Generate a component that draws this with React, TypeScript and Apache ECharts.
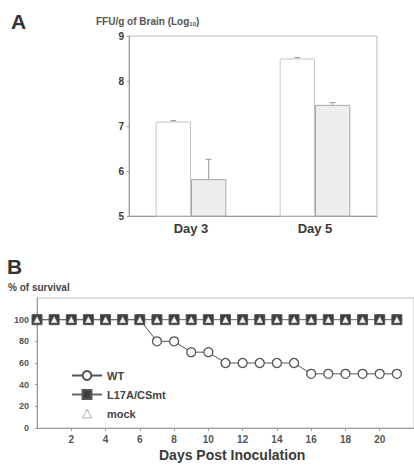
import React, { useEffect, useRef } from "react";
import * as echarts from "echarts";

// Panel A data
const categories = ["Day 3", "Day 5"];
const wtLog = [7.1, 8.5];
const wtErr = [0.02, 0.02];
const mutLog = [5.82, 7.47];
const mutErr = [0.44, 0.05];
const yTicksA = [5, 6, 7, 8, 9];

// Panel B data
const days = [0, 1, 2, 3, 4, 5, 6, 7, 8, 9, 10, 11, 12, 13, 14, 15, 16, 17, 18, 19, 20, 21];
const wtSurvival = [100, 100, 100, 100, 100, 100, 100, 80, 80, 70, 70, 60, 60, 60, 60, 60, 50, 50, 50, 50, 50, 50];
const mutSurvival = [100, 100, 100, 100, 100, 100, 100, 100, 100, 100, 100, 100, 100, 100, 100, 100, 100, 100, 100, 100, 100, 100];
const mockSurvival = [100, 100, 100, 100, 100, 100, 100, 100, 100, 100, 100, 100, 100, 100, 100, 100, 100, 100, 100, 100, 100, 100];

const FONT = "Liberation Sans, Arial, sans-serif";
const TXT = "#3a3a3a";
const AX = "#9a9a9a";

export default function App() {
  const ref = useRef<HTMLDivElement>(null);
  useEffect(() => {
    const chart = echarts.init(ref.current!, null, { renderer: "svg" });
    const errData = (vals: number[], errs: number[], side: number) =>
      vals.map((v, i) => [i, v, errs[i], side]);
    const errRender = (params: any, api: any) => {
      const idx = api.value(0);
      const v = api.value(1);
      const e = api.value(2);
      const side = api.value(3);
      const band = api.size([1, 0])[0];
      const bw = (band * (1 - 0.43)) / 2;
      const c = api.coord([idx, v]);
      const t = api.coord([idx, v + e]);
      const x = c[0] + side * bw / 2;
      return {
        type: "group",
        children: [
          { type: "line", shape: { x1: x, y1: c[1], x2: x, y2: t[1] }, style: { stroke: "#999", lineWidth: 1 } },
          { type: "line", shape: { x1: x - 3, y1: t[1], x2: x + 3, y2: t[1] }, style: { stroke: "#999", lineWidth: 1 } },
        ],
      };
    };
    const pair = (arr: number[]) => days.map((d, i) => [d, arr[i]]);
    chart.setOption({
      animation: false,
      textStyle: { fontFamily: FONT },
      grid: [
        { left: 129, top: 36, width: 248, height: 180, show: true, borderColor: "#bdbdbd", borderWidth: 1 },
        { left: 37, top: 298, width: 381, height: 130, show: true, borderColor: "#bdbdbd", borderWidth: 1 },
      ],
      graphic: [
        { type: "text", left: 11, top: 11, style: { text: "A", font: "bold 21px " + FONT, fill: "#333" } },
        { type: "text", left: 7, top: 256, style: { text: "B", font: "bold 21px " + FONT, fill: "#333" } },
        {
          type: "text", left: 96, top: 16,
          style: {
            text: "{m|FFU/g of Brain (Log}{s|10}{m|)}",
            rich: {
              m: { fontSize: 10, fontWeight: "bold", fill: "#555", fontFamily: FONT },
              s: { fontSize: 6, fontWeight: "bold", fill: "#555", fontFamily: FONT, padding: [6, 0, 0, 0] },
            },
          },
        },
        { type: "text", left: 8, top: 282, style: { text: "% of survival", font: "bold 10px " + FONT, fill: "#444" } },
        { type: "text", left: 159, top: 448, style: { text: "Days Post Inoculation", font: "bold 14px " + FONT, fill: TXT } },
      ],
      legend: {
        data: [
          { name: "WT" },
          { name: "L17A/CSmt" },
          { name: "mock", itemStyle: { color: "#fff", borderColor: "#aaa", borderWidth: 1 } },
        ],
        orient: "vertical",
        left: 66,
        top: 365,
        itemWidth: 30,
        itemHeight: 11,
        itemGap: 8,
        textStyle: { fontSize: 11, fontWeight: "bold", color: "#444", fontFamily: FONT },
      },
      xAxis: [
        {
          type: "category", gridIndex: 0, data: categories,
          axisLine: { lineStyle: { color: AX } },
          axisTick: { show: false },
          axisLabel: { fontSize: 13, fontWeight: "bold", color: TXT, margin: 6 },
        },
        {
          type: "value", gridIndex: 1, min: 0, max: 22, interval: 2,
          axisLine: { lineStyle: { color: AX } },
          axisTick: { length: 3, lineStyle: { color: AX } },
          splitLine: { show: false },
          axisLabel: { fontSize: 10, fontWeight: "bold", color: "#555", margin: 6, showMinLabel: false, showMaxLabel: false },
        },
      ],
      yAxis: [
        {
          type: "value", gridIndex: 0, min: yTicksA[0], max: yTicksA[yTicksA.length - 1], interval: 1,
          axisLine: { show: true, lineStyle: { color: AX } },
          axisTick: { show: true, length: 2, lineStyle: { color: AX } },
          splitLine: { show: false },
          axisLabel: { fontSize: 10, fontWeight: "bold", color: TXT, margin: 5 },
        },
        {
          type: "value", gridIndex: 1, min: 0, max: 120, interval: 20,
          axisLine: { show: true, lineStyle: { color: AX } },
          axisTick: { show: true, length: 2, lineStyle: { color: AX } },
          splitLine: { show: false },
          axisLabel: { fontSize: 9, fontWeight: "bold", color: "#555", margin: 8, showMaxLabel: false },
        },
      ],
      series: [
        {
          name: "WT bar", type: "bar", xAxisIndex: 0, yAxisIndex: 0, data: wtLog,
          barGap: "0%", barCategoryGap: "43%",
          itemStyle: { color: "#ffffff", borderColor: "#c4c4c4", borderWidth: 1 },
        },
        {
          name: "L17A bar", type: "bar", xAxisIndex: 0, yAxisIndex: 0, data: mutLog,
          barGap: "0%", barCategoryGap: "43%",
          itemStyle: { color: "#eeeeee", borderColor: "#a8a8a8", borderWidth: 1 },
        },
        {
          name: "WT err", type: "custom", xAxisIndex: 0, yAxisIndex: 0,
          data: errData(wtLog, wtErr, -1), renderItem: errRender, encode: { x: 0, y: 1 }, z: 5,
        },
        {
          name: "L17A err", type: "custom", xAxisIndex: 0, yAxisIndex: 0,
          data: errData(mutLog, mutErr, 1), renderItem: errRender, encode: { x: 0, y: 1 }, z: 5,
        },
        {
          name: "WT", type: "line", xAxisIndex: 1, yAxisIndex: 1, data: pair(wtSurvival),
          symbol: "circle", symbolSize: 9,
          lineStyle: { color: "#555", width: 1 },
          itemStyle: { color: "#fff", borderColor: "#555", borderWidth: 1.3 },
          z: 2,
        },
        {
          name: "L17A/CSmt", type: "line", xAxisIndex: 1, yAxisIndex: 1, data: pair(mutSurvival),
          symbol: "rect", symbolSize: 10,
          lineStyle: { color: "#666", width: 1 },
          itemStyle: { color: "#3f3f3f", borderColor: "#555", borderWidth: 1 },
          z: 3,
        },
        {
          name: "mock", type: "line", xAxisIndex: 1, yAxisIndex: 1, data: pair(mockSurvival),
          symbol: "triangle", symbolSize: 6,
          lineStyle: { width: 0, opacity: 0 },
          itemStyle: { color: "#f4f4f4", borderColor: "#ddd", borderWidth: 0.5 },
          z: 4,
        },
      ],
    });
    return () => chart.dispose();
  }, []);
  return (
    <div
      ref={ref}
      style={{ position: "fixed", left: 0, top: 0, width: 414, height: 465, background: "#fff" }}
    />
  );
}
